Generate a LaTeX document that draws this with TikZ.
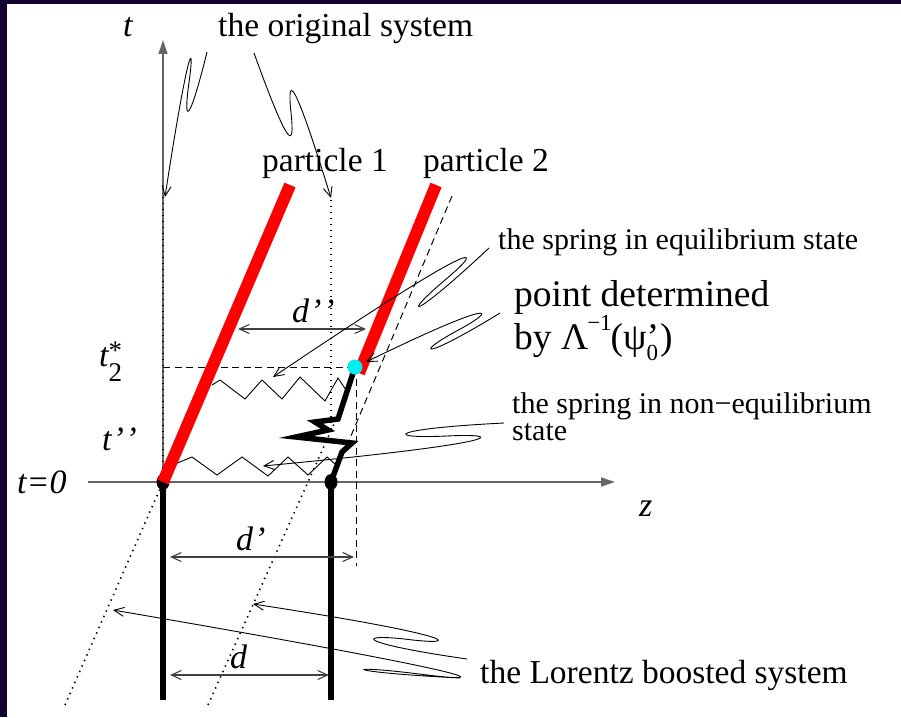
\documentclass[tikz,border=0pt]{standalone}
\usepackage{fontspec}
\setmainfont{Liberation Serif}
\usetikzlibrary{arrows.meta,calc}

\definecolor{framebg}{RGB}{20,2,50}
\definecolor{eventcyan}{RGB}{0,238,238}
\newcommand{\smallfig}[1]{{\upshape\fontsize{23}{23}\selectfont #1}}

\begin{document}
\begin{tikzpicture}[x=1pt, y=-1pt,
  timeaxis/.style={black!60, line width=1.3pt, -{Triangle[length=14pt,width=9pt]}},
  redline/.style={red, line width=12pt},
  worldline/.style={black, line width=6pt},
  zigzag/.style={black, line width=0.9pt, line join=miter},
  guide/.style={black, line width=1pt, dash pattern=on 7pt off 4.5pt},
  dotline/.style={black, line width=1.6pt, dash pattern=on 1.4pt off 4.6pt},
  callout/.style={black, line width=0.9pt, -{Straight Barb[length=10pt,width=9pt]}},
  distarrow/.style={black!75, line width=1.1pt, {Straight Barb[length=10pt,width=9pt]}-{Straight Barb[length=10pt,width=9pt]}},
  lbl/.style={inner sep=0pt, anchor=base west, font=\fontsize{33.5}{36}\selectfont},
  biglbl/.style={inner sep=0pt, anchor=base west, font=\fontsize{37.5}{40}\selectfont},
  note/.style={inner sep=0pt, anchor=base west, font=\fontsize{30}{32}\selectfont},
  sym/.style={inner sep=0pt, anchor=base west, font=\fontsize{34}{36}\selectfont\itshape}]

  % frame
  \fill[framebg] (0,0) rectangle (901,717);
  \fill[white] (7,4) rectangle (901,717);

  % events at t=0 and t_2^*
  \coordinate (O1) at (163,482);
  \coordinate (O2) at (331,482);
  \coordinate (E2) at (355,367);

  % Draw axes
  \draw[timeaxis] (88,482) -- (615,482);
  \draw[timeaxis] (O1) -- (163,40);

  % guide lines
  \draw[dotline] (163,197) -- (O1);
  \draw[dotline] (331,200) -- (331,432);
  \draw[dotline] (65,705) -- (O1);
  \draw[dotline] (208,705) -- (338,415);
  \draw[guide] (163,367) -- (E2);
  \draw[guide] (356,367) -- (356,566);
  \draw[guide] (452,196) -- (340,462);

  % Lorentz boosted world lines
  \draw[worldline] (O1) -- (163,700);
  \draw[worldline] (O2) -- (331,700);
  \fill (O1) ellipse [x radius=6.5pt, y radius=8pt];
  \fill (O2) ellipse [x radius=6.5pt, y radius=8pt];

  % springs
  \draw[zigzag] (212,385) -- (220,380) -- (245,399) -- (262,380) -- (282,399)
    -- (300,377) -- (325,401) -- (338,378) -- (346,390);
  \draw[zigzag] (170,466) -- (192,457) -- (217,475) -- (242,457) -- (268,476)
    -- (288,457) -- (308,475) -- (327,457) -- (335,464);
  \draw[black, line width=5.5pt, line join=miter, miter limit=12] (O2) -- (342,452)
    -- (352,443) -- (296,437) -- (328,430) -- (315,422) -- (338,419) -- (E2);

  % original world lines
  \draw[redline] (O1) -- (290,185);
  \draw[redline] (359,373) -- (436,185);
  \fill[eventcyan] (E2) circle (7.5pt);

  % distances
  \draw[distarrow] (238,329) -- (366,329);
  \draw[distarrow] (170,557) -- (354,557);
  \draw[distarrow] (170,675) -- (329,675);
  \node[sym] (dpp) at (292,322) {d\kern1pt’\kern1.5pt’};
  \node[sym] (dp) at (236,550) {d\kern1pt’};
  \node[sym] (dlab) at (230,668) {d};

  % axis labels
  \node[sym] (tlab) at (123,37) {t};
  \node[sym] (zlab) at (639,516) {z};
  \node[sym] (tzero) at (17,493) {t=0};
  \node[sym] (tpp) at (102,450) {t\kern1pt’\kern1.5pt’};
  \node[sym] (tstar) at (99,366) {t\makebox[0pt][l]{\raisebox{0.2em}{\upshape\fontsize{27}{27}\selectfont *}}\raisebox{-0.45em}{\upshape\fontsize{27}{27}\selectfont 2}};

  % texts
  \node[lbl] (orig) at (218,37) {the original system};
  \node[lbl] (part1) at (262,171) {particle 1};
  \node[lbl] (part2) at (423,171) {particle 2};
  \node[note] (springeq) at (498,249) {the spring in equilibrium state};
  \node[biglbl] (pointdet) at (514,306) {point determined};
  \node[biglbl] (pointby) at (514,349) {by Λ\kern-1pt\raisebox{0.5em}{\smallfig{−1}}\kern-1pt(ψ\makebox[0pt][l]{’}\raisebox{-0.3em}{\smallfig{0}}\kern2pt)};
  \node[note] (noneq) at (512,413) {the spring in non−equilibrium};
  \node[note] (noneqst) at (512,440) {state};
  \node[lbl] (lorentz) at (480,683) {the Lorentz boosted system};

  % callout arrows
  \draw[callout] ([xshift=-11pt,yshift=-15pt]orig.base west) .. controls (189,125) and (183,125) .. (189,82.5)
    .. controls (195,40) and (189,40) .. (165,197);
  \draw[callout] ([xshift=36pt,yshift=-16pt]orig.base west) .. controls (289,150) and (295,150) .. (291,112.5)
    .. controls (287,75) and (293,75) .. (331,198);
  \draw[callout] ([xshift=-9pt,yshift=1pt]springeq.base west) .. controls (408.5,323.5) and (401.5,316.5) .. (445,280)
    .. controls (488.5,243.5) and (481.5,236.5) .. (273,377);
  \draw[callout] ([xshift=-14pt,yshift=-7pt]pointdet.base west) .. controls (419.8,362.2) and (414.2,353.8) .. (457.5,330.5)
    .. controls (500.8,307.2) and (495.2,298.8) .. (366,362);
  \draw[callout] ([xshift=-8pt,yshift=-10pt]noneq.base west) .. controls (385,429) and (385,439) .. (446.5,436)
    .. controls (508,433) and (508,443) .. (263,466);
  \draw[callout] ([xshift=-13pt,yshift=24pt]lorentz.base west) .. controls (355,643) and (355,633) .. (408.5,639.5)
    .. controls (462,646) and (462,636) .. (253,604);
  \draw[callout] ([xshift=-20pt,yshift=5pt]lorentz.base west) .. controls (340,672) and (340,664) .. (419,674)
    .. controls (498,684) and (498,676) .. (113,610);
\end{tikzpicture}
\end{document}
